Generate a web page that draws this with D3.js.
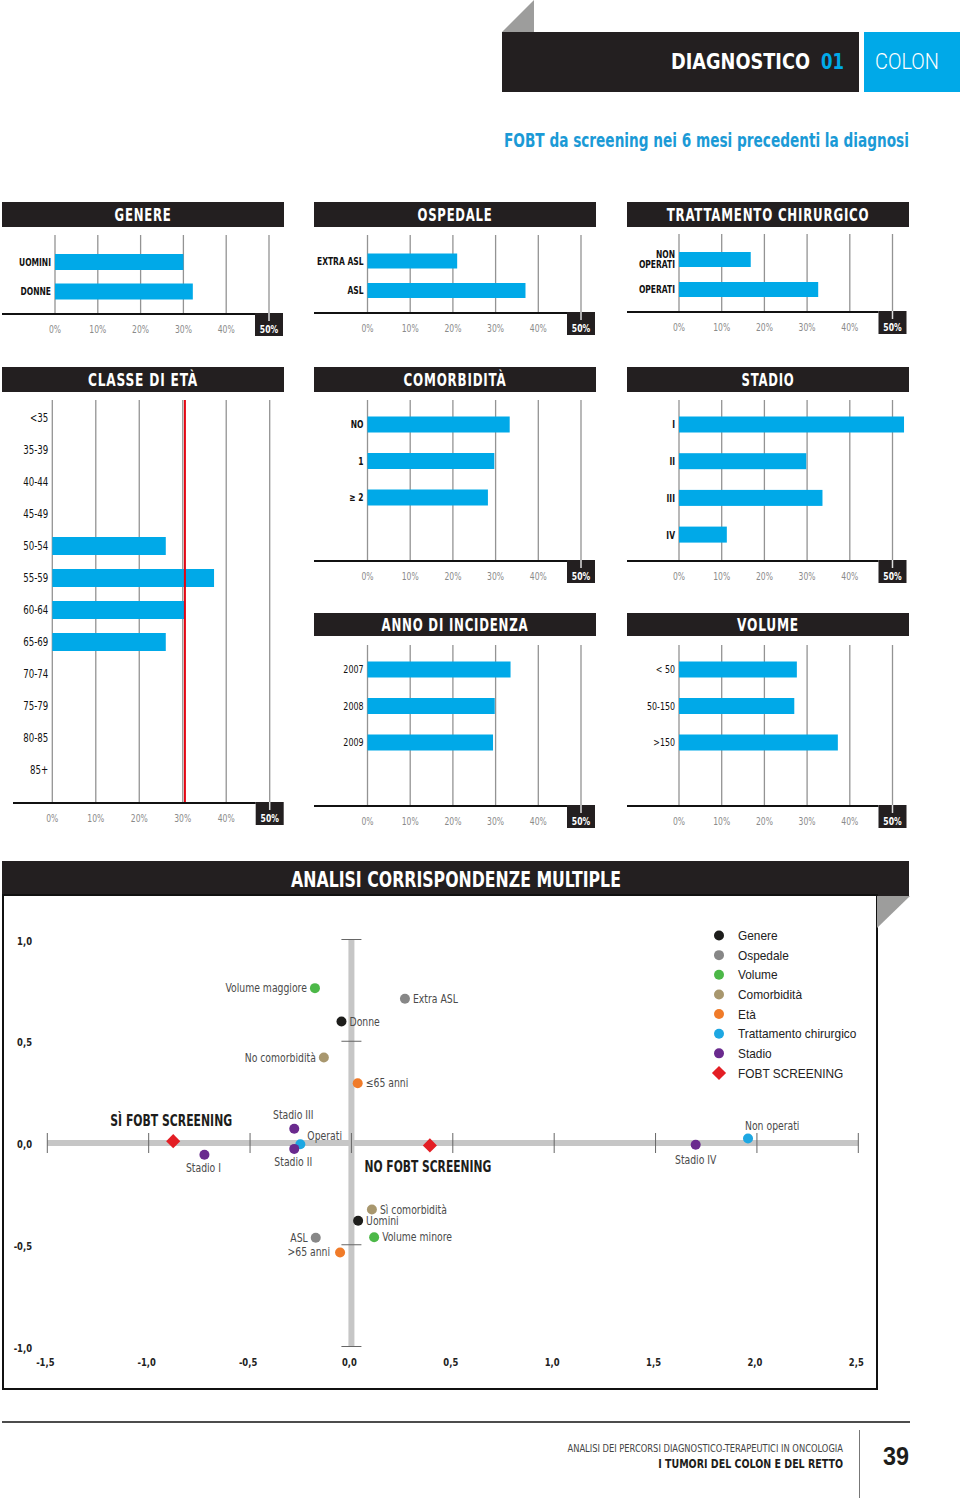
<!DOCTYPE html>
<html><head><meta charset="utf-8">
<script src="https://cdn.jsdelivr.net/npm/d3@7"></script>
<style>
body{margin:0;background:#fff;}
svg{display:block;}
</style></head><body>
<svg id="c" width="960" height="1498"></svg>
<script>
// ---------- DATA ----------
const genereCats = ["UOMINI", "DONNE"];
const genereVals = [30.0, 32.2];
const ospedaleCats = ["EXTRA ASL", "ASL"];
const ospedaleVals = [21.0, 37.0];
const trattamentoCats = ["NON\nOPERATI", "OPERATI"];
const trattamentoVals = [16.8, 32.6];
const etaCats = ["<35","35-39","40-44","45-49","50-54","55-59","60-64","65-69","70-74","75-79","80-85","85+"];
const etaVals = [null, null, null, null, 26.1, 37.2, 30.3, 26.1, null, null, null, null];
const etaRef = 30.5;
const comorbCats = ["NO", "1", "≥ 2"];
const comorbVals = [33.3, 29.7, 28.2];
const stadioCats = ["I", "II", "III", "IV"];
const stadioVals = [52.7, 29.8, 33.6, 11.2];
const annoCats = ["2007", "2008", "2009"];
const annoVals = [33.5, 29.8, 29.4];
const volumeCats = ["< 50", "50-150", ">150"];
const volumeVals = [27.6, 27.0, 37.2];
const pctTicks = [0, 10, 20, 30, 40, 50];
const pctTickLabels = ["0%", "10%", "20%", "30%", "40%", "50%"];

const mcaLabels = ["Volume maggiore","Donne","Extra ASL","No comorbidità","≤65 anni","Stadio III","Operati","Stadio II","Stadio I","Stadio IV","Non operati","Sì comorbidità","Uomini","Volume minore","ASL",">65 anni","SÌ FOBT SCREENING","NO FOBT SCREENING"];
const mcaX = [-0.180,-0.049,0.264,-0.136,0.031,-0.282,-0.252,-0.282,-0.725,1.698,1.956,0.101,0.033,0.112,-0.176,-0.056,-0.879,0.387];
const mcaY = [0.761,0.597,0.709,0.420,0.294,0.070,-0.006,-0.029,-0.058,-0.009,0.022,-0.327,-0.382,-0.463,-0.466,-0.538,0.009,-0.012];
const mcaGroup = ["Volume","Genere","Ospedale","Comorbidità","Età","Stadio","Trattamento chirurgico","Stadio","Stadio","Stadio","Trattamento chirurgico","Comorbidità","Genere","Volume","Ospedale","Età","FOBT SCREENING","FOBT SCREENING"];
const legendNames = ["Genere","Ospedale","Volume","Comorbidità","Età","Trattamento chirurgico","Stadio","FOBT SCREENING"];
const legendColors = ["#1d1d1b","#878787","#4cb848","#a8976e","#f07b29","#1da7e2","#6a2a8e","#e31e24"];
const mcaXTicks = [-1.5,-1.0,-0.5,0,0.5,1.0,1.5,2.0,2.5];
const mcaYTicks = [1.0,0.5,0,-0.5,-1.0];

// ---------- STYLE / LAYOUT ----------
const DARK = "#231f20", BLUE = "#00a9e8", TITLEBLUE = "#1b9ad6";
const NARROW = "'DejaVu Sans Condensed','Liberation Sans Narrow',sans-serif";
const SANS = "'Liberation Sans',Arial,Helvetica,sans-serif";
const SQ = 0.84; // horizontal squeeze to mimic a condensed face
const svg = d3.select("#c");
const fmtComma = v => d3.format(".1f")(v).replace(".", ",").replace("−","-");

// place a text at (x,y) and squeeze horizontally, either by factor or to a target width
function squeeze(sel, x, y, opt) {
  sel.attr("x", 0).attr("y", 0);
  let sx = opt.sx || SQ;
  if (opt.w) sx = opt.w / sel.node().getComputedTextLength();
  sel.attr("transform", `translate(${x},${y}) scale(${sx},1)`);
  return sel;
}

// header
svg.append("path").attr("d", d3.line()([[502,32],[534,0],[534,32]]) + "Z").attr("fill", "#9d9d9c");
svg.append("rect").attr("x",502).attr("y",32).attr("width",357).attr("height",60).attr("fill",DARK);
svg.append("rect").attr("x",864).attr("y",32).attr("width",96).attr("height",60).attr("fill",BLUE);
squeeze(svg.append("text").attr("font-family",NARROW).attr("font-weight","bold")
  .attr("font-size",22).attr("fill","#fff").text("DIAGNOSTICO"), 671, 69, {w:139});
squeeze(svg.append("text").attr("font-family",NARROW).attr("font-weight","bold")
  .attr("font-size",22).attr("fill",BLUE).text("01"), 821, 69, {w:23});
squeeze(svg.append("text").attr("font-family","Roboto,"+SANS).attr("font-weight",300)
  .attr("font-size",22).attr("fill","#fff").text("COLON"), 875, 69, {w:64});
squeeze(svg.append("text").attr("font-family",NARROW).attr("font-weight","bold")
  .attr("font-size",20).attr("fill",TITLEBLUE)
  .text("FOBT da screening nei 6 mesi precedenti la diagnosi"), 504, 147, {w:405});

function barPanel(o) {
  const g = svg.append("g");
  g.append("rect").attr("x",o.x).attr("y",o.ty).attr("width",o.w).attr("height",o.th).attr("fill",DARK);
  squeeze(g.append("text").attr("text-anchor","middle")
    .attr("font-family",NARROW).attr("font-weight","bold").attr("font-size",17).attr("fill","#fff")
    .attr("letter-spacing",1).text(o.title), o.x+o.w/2, o.ty+o.th/2+6.5, {w:o.tw});
  const x = d3.scaleLinear().domain([0,50]).range(o.xr);
  const y = d3.scalePoint().domain(o.cats).range([o.c0, o.c0 + o.step*(o.cats.length-1)]);
  g.selectAll("line.grid").data(pctTicks).join("line").attr("class","grid")
    .attr("x1",d=>x(d)).attr("x2",d=>x(d)).attr("y1",o.gt).attr("y2",o.ay)
    .attr("stroke","#939393").attr("stroke-width",1.3);
  const rows = o.cats.map((c,i)=>({c, v:o.vals[i]})).filter(d=>d.v!=null);
  g.selectAll("rect.bar").data(rows).join("rect").attr("class","bar")
    .attr("x",x(0)).attr("y",d=>y(d.c)-o.bh/2).attr("width",d=>x(d.v)-x(0)).attr("height",o.bh).attr("fill",BLUE);
  if (o.ref != null) {
    g.append("line").attr("x1",x(o.ref)).attr("x2",x(o.ref)).attr("y1",o.gt).attr("y2",o.ay)
      .attr("stroke","#e30613").attr("stroke-width",2);
  }
  // category labels
  g.selectAll("text.cat").data(o.cats).join("text").attr("class","cat")
    .attr("text-anchor","end").attr("font-family",NARROW)
    .attr("font-weight",o.lw||"bold").attr("font-size",o.lfs||10.5).attr("fill","#111")
    .attr("transform",`translate(${x(0)-4},0) scale(${o.lsx||0.8},1)`)
    .each(function(c){
      const parts = c.split("\n");
      const t = d3.select(this);
      parts.forEach((p,i)=>{
        t.append("tspan").attr("x",0).attr("y",y(c)+4 + (i-(parts.length-1)/2)*10).text(p);
      });
    });
  // axis
  const bx = x(50)-14;
  g.append("line").attr("x1",o.ax0).attr("x2",bx).attr("y1",o.ay).attr("y2",o.ay).attr("stroke","#111").attr("stroke-width",2);
  g.append("rect").attr("x",bx).attr("y",o.ay-1).attr("width",28).attr("height",23).attr("fill",DARK);
  g.append("line").attr("x1",x(50)).attr("x2",x(50)).attr("y1",o.ay-1).attr("y2",o.ay+7).attr("stroke","#ddd").attr("stroke-width",1.5);
  g.selectAll("text.tick").data(pctTicks).join("text").attr("class","tick")
    .attr("text-anchor","middle").attr("font-family",NARROW)
    .attr("font-size",10).attr("font-weight",(d,i)=>i===5?"bold":"normal")
    .attr("fill",(d,i)=>i===5?"#fff":"#8a8a8a")
    .attr("transform",d=>`translate(${x(d)},${o.ay+19}) scale(0.85,1)`)
    .text((d,i)=>pctTickLabels[i]);
}

const colX = [2, 314, 627], PW = 282;
// row 1
barPanel({x:colX[0],ty:202,w:PW,th:25,title:"GENERE",tw:57,xr:[55,269],cats:genereCats,vals:genereVals,gt:235,ay:314,c0:262,step:29.5,bh:16,ax0:2});
barPanel({x:colX[1],ty:202,w:PW,th:25,title:"OSPEDALE",tw:75,xr:[367.5,581],cats:ospedaleCats,vals:ospedaleVals,gt:235,ay:313,c0:261,step:29.5,bh:15,ax0:314});
barPanel({x:colX[2],ty:202,w:PW,th:25,title:"TRATTAMENTO CHIRURGICO",tw:203,xr:[679,892.5],cats:trattamentoCats,vals:trattamentoVals,gt:234,ay:312,c0:259.5,step:30,bh:15,ax0:627});
// row 2
barPanel({x:colX[0],ty:367,w:PW,th:25,title:"CLASSE DI ETÀ",tw:110,xr:[52.3,269.7],cats:etaCats,vals:etaVals,ref:etaRef,gt:400,ay:803,c0:418,step:32,bh:18,ax0:13,lw:"normal",lfs:12});
barPanel({x:colX[1],ty:367,w:PW,th:25,title:"COMORBIDITÀ",tw:103,xr:[367.5,581],cats:comorbCats,vals:comorbVals,gt:400,ay:561,c0:424.5,step:36.5,bh:16,ax0:314});
barPanel({x:colX[2],ty:367,w:PW,th:25,title:"STADIO",tw:53,xr:[679,892.5],cats:stadioCats,vals:stadioVals,gt:400,ay:561,c0:424.5,step:36.7,bh:16,ax0:627});
// row 3
barPanel({x:colX[1],ty:613,w:PW,th:23,title:"ANNO DI INCIDENZA",tw:147,xr:[367.5,581],cats:annoCats,vals:annoVals,gt:645,ay:806,c0:669.5,step:36.5,bh:16,ax0:314,lw:"normal",lfs:11});
barPanel({x:colX[2],ty:613,w:PW,th:23,title:"VOLUME",tw:62,xr:[679,892.5],cats:volumeCats,vals:volumeVals,gt:645,ay:806,c0:669.5,step:36.5,bh:16,ax0:627,lw:"normal",lfs:11});

// ---------- MCA ----------
svg.append("rect").attr("x",2).attr("y",861).attr("width",907).attr("height",35).attr("fill",DARK);
squeeze(svg.append("text").attr("text-anchor","middle").attr("font-family",NARROW)
  .attr("font-weight","bold").attr("font-size",22).attr("fill","#fff")
  .text("ANALISI CORRISPONDENZE MULTIPLE"), 456, 887, {w:330});
svg.append("rect").attr("x",3).attr("y",895).attr("width",874).attr("height",494).attr("fill","none").attr("stroke","#111").attr("stroke-width",2);
svg.append("path").attr("d", d3.line()([[877,896],[910,896],[877,928]])+"Z").attr("fill","#9d9d9c");

const mx = d3.scaleLinear().domain([-1.5,2.5]).range([47.3,858.3]);
const my = d3.scaleLinear().domain([-1,1]).range([1346.5,939.5]);
const mg = svg.append("g");
mg.append("line").attr("x1",mx(-1.5)).attr("x2",mx(2.5)).attr("y1",my(0)).attr("y2",my(0)).attr("stroke","#c6c6c6").attr("stroke-width",6);
mg.append("line").attr("x1",mx(0)).attr("x2",mx(0)).attr("y1",my(1)).attr("y2",my(-1)).attr("stroke","#c6c6c6").attr("stroke-width",6);
mg.selectAll("line.xt").data(mcaXTicks).join("line").attr("class","xt")
  .attr("x1",d=>mx(d)).attr("x2",d=>mx(d)).attr("y1",my(0)-10).attr("y2",my(0)+10).attr("stroke","#666").attr("stroke-width",1);
mg.selectAll("line.yt").data(mcaYTicks.filter(d=>d!==0)).join("line").attr("class","yt")
  .attr("x1",mx(0)-10).attr("x2",mx(0)+10).attr("y1",d=>my(d)).attr("y2",d=>my(d)).attr("stroke","#666").attr("stroke-width",1);
mg.selectAll("text.xl").data(mcaXTicks).join("text").attr("class","xl")
  .attr("text-anchor","middle").attr("font-family",NARROW)
  .attr("font-size",11).attr("font-weight","bold").attr("fill","#222")
  .attr("transform",d=>`translate(${mx(d)-2},1366) scale(0.85,1)`).text(fmtComma);
mg.selectAll("text.yl").data(mcaYTicks).join("text").attr("class","yl")
  .attr("text-anchor","end").attr("font-family",NARROW)
  .attr("font-size",11).attr("font-weight","bold").attr("fill","#222")
  .attr("transform",d=>`translate(32,${my(d)+5}) scale(0.85,1)`).text(fmtComma);

const color = d3.scaleOrdinal().domain(legendNames).range(legendColors);
const place = {
  "Volume maggiore":[-8,4,"end"], "Donne":[8,4,"start"], "Extra ASL":[8,4,"start"], "No comorbidità":[-8,4,"end"],
  "≤65 anni":[8,4,"start"], "Stadio III":[-1,-10,"middle"], "Operati":[7,-4,"start"], "Stadio II":[-1,17,"middle"],
  "Stadio I":[-1,17,"middle"], "Stadio IV":[0,19,"middle"], "Non operati":[-3,-9,"start"], "Sì comorbidità":[8,4,"start"],
  "Uomini":[8,4,"start"], "Volume minore":[8,4,"start"], "ASL":[-8,4,"end"], ">65 anni":[-10,4,"end"],
  "SÌ FOBT SCREENING":[-2,-15,"middle"], "NO FOBT SCREENING":[-2,27,"middle"]
};
const pts = mcaLabels.map((l,i)=>({l, x:mcaX[i], y:mcaY[i], g:mcaGroup[i]}));
const diamond = d3.symbol().type(d3.symbolSquare).size(100);
pts.forEach(p=>{
  if (p.g === "FOBT SCREENING") {
    mg.append("path").attr("d",diamond()).attr("transform",`translate(${mx(p.x)},${my(p.y)}) rotate(45)`).attr("fill",color(p.g));
  } else {
    mg.append("circle").attr("cx",mx(p.x)).attr("cy",my(p.y)).attr("r",5).attr("fill",color(p.g));
  }
  const pl = place[p.l];
  const bold = p.g === "FOBT SCREENING";
  const t = mg.append("text").attr("text-anchor",pl[2])
    .attr("font-family",NARROW).attr("font-size",bold?15:12).attr("font-weight",bold?"bold":"normal")
    .attr("fill",bold?"#1d1d1b":"#4a4a4a").text(p.l);
  squeeze(t, mx(p.x)+pl[0], my(p.y)+pl[1], bold ? {w: p.l[0]==="S"?122:127} : {sx:0.86});
});

// legend
const ly = d3.scalePoint().domain(legendNames).range([935.5,1073]);
const lg = svg.append("g");
legendNames.forEach(n=>{
  if (n === "FOBT SCREENING") {
    lg.append("path").attr("d",diamond()).attr("transform",`translate(719,${ly(n)}) rotate(45)`).attr("fill",color(n));
  } else {
    lg.append("circle").attr("cx",719).attr("cy",ly(n)).attr("r",5).attr("fill",color(n));
  }
  squeeze(lg.append("text").attr("font-family",SANS).attr("font-size",12.5)
    .attr("fill","#222").text(n), 738, ly(n)+4.5, {sx:0.95});
});

// footer
svg.append("line").attr("x1",2).attr("x2",910).attr("y1",1422).attr("y2",1422).attr("stroke","#111").attr("stroke-width",1.5);
svg.append("line").attr("x1",859.5).attr("x2",859.5).attr("y1",1430).attr("y2",1498).attr("stroke","#777").attr("stroke-width",1);
squeeze(svg.append("text").attr("text-anchor","end").attr("font-family",NARROW)
  .attr("font-size",11).attr("fill","#444")
  .text("ANALISI DEI PERCORSI DIAGNOSTICO-TERAPEUTICI IN ONCOLOGIA"), 843, 1452, {w:276});
squeeze(svg.append("text").attr("text-anchor","end").attr("font-family",NARROW)
  .attr("font-size",13).attr("font-weight","bold").attr("fill","#1d1d1b")
  .text("I TUMORI DEL COLON E DEL RETTO"), 843, 1468, {w:185});
squeeze(svg.append("text").attr("text-anchor","middle").attr("font-family",SANS)
  .attr("font-size",25).attr("font-weight","bold").attr("fill","#1d1d1b").text("39"), 896, 1465, {w:26});
</script>
</body></html>
